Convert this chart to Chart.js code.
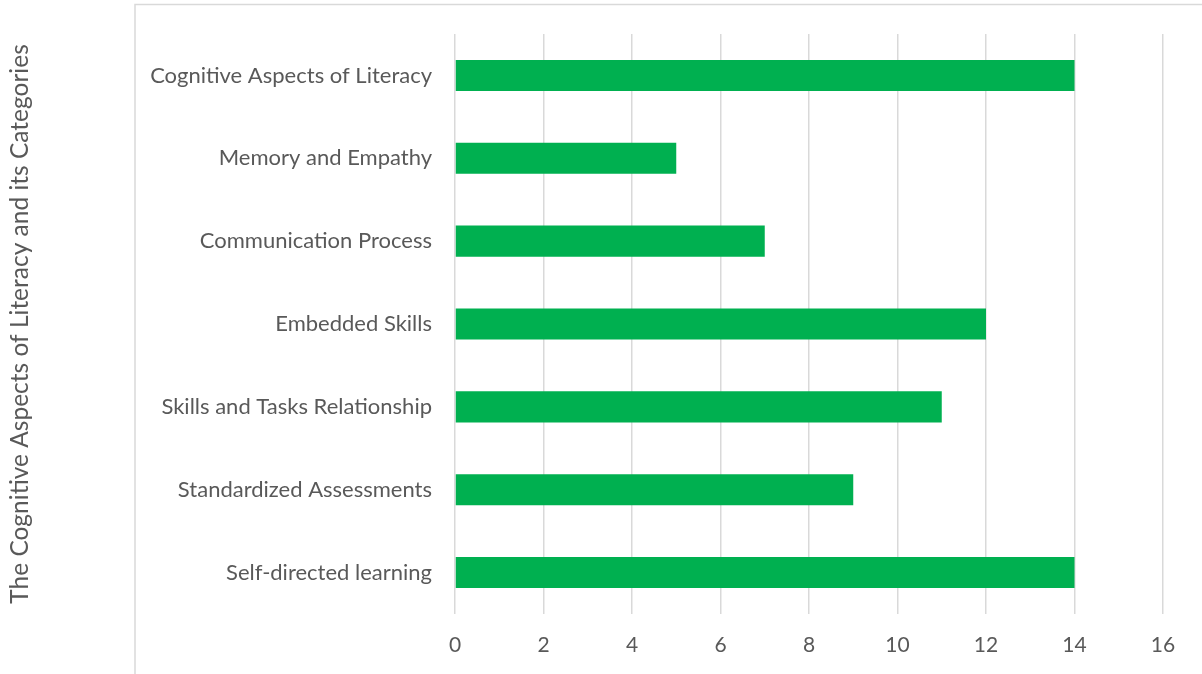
<!DOCTYPE html>
<html>
<head>
<meta charset="utf-8">
<script src="https://cdn.jsdelivr.net/npm/chart.js@4"></script>
<style>
html,body{margin:0;padding:0;background:#fff;}
#wrap{width:1202px;height:674px;position:relative;}
</style>
</head>
<body>
<div id="wrap"><canvas id="c" width="1202" height="674"></canvas></div>
<script>
const categories = [
  "Cognitive Aspects of Literacy",
  "Memory and Empathy",
  "Communication Process",
  "Embedded Skills",
  "Skills and Tasks Relationship",
  "Standardized Assessments",
  "Self-directed learning"
];
const values = [14, 5, 7, 12, 11, 9, 14];
const xTicks = [0, 2, 4, 6, 8, 10, 12, 14, 16];
const yTitle = "The Cognitive Aspects of Literacy and its Categories";

const FONT = "Lato, 'Open Sans', sans-serif";
const TEXT = "#595959";
const GRID = "#d9d9d9";

const boxPlugin = {
  id: 'box',
  beforeDraw(chart) {
    const ctx = chart.ctx;
    ctx.save();
    ctx.fillStyle = '#fff';
    ctx.fillRect(0, 0, chart.width, chart.height);
    ctx.strokeStyle = GRID;
    ctx.lineWidth = 1.5;
    ctx.beginPath();
    ctx.moveTo(135, chart.height + 5);
    ctx.lineTo(135, 4.5);
    ctx.lineTo(chart.width + 5, 4.5);
    ctx.stroke();
    ctx.restore();
  }
};

new Chart(document.getElementById('c'), {
  type: 'bar',
  data: {
    labels: categories,
    datasets: [{
      data: values,
      backgroundColor: '#00B050',
      borderWidth: 0,
      categoryPercentage: 1.0,
      barPercentage: 0.375
    }]
  },
  options: {
    indexAxis: 'y',
    responsive: false,
    animation: false,
    devicePixelRatio: 1,
    layout: { padding: { top: 34, right: 39, bottom: 0, left: 0 } },
    plugins: { legend: { display: false }, tooltip: { enabled: false } },
    scales: {
      x: {
        min: 0, max: 16,
        afterBuildTicks(scale) { scale.ticks = xTicks.map(v => ({ value: v })); },
        afterFit(scale) { scale.height = 60; },
        grid: { color: GRID, lineWidth: 1.5, drawTicks: false },
        border: { display: false },
        ticks: { color: TEXT, font: { family: FONT, size: 21 }, padding: 19 }
      },
      y: {
        afterFit(scale) { scale.width = 455; },
        grid: { display: false, drawTicks: true, tickLength: 23 },
        border: { display: false },
        ticks: { color: TEXT, font: { family: FONT, size: 22 }, padding: 0 },
        title: {
          display: true,
          text: yTitle,
          color: TEXT,
          font: { family: FONT, size: 24.5 },
          padding: { top: 5, bottom: 0 }
        }
      }
    }
  },
  plugins: [boxPlugin]
});
</script>
</body>
</html>
